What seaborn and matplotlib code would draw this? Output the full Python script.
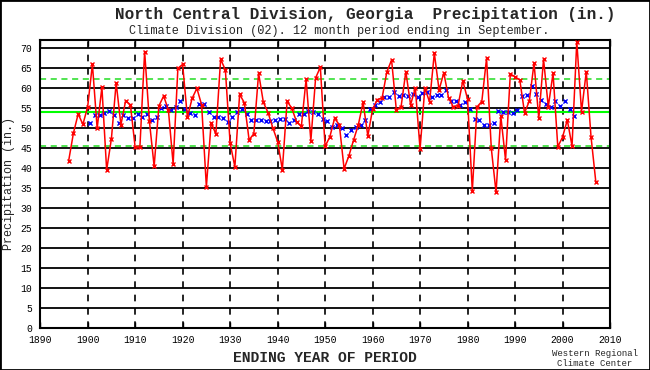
import numpy as np
import pandas as pd
import matplotlib
matplotlib.use("Agg")
import matplotlib.pyplot as plt
import seaborn as sns
from matplotlib.patches import Rectangle

# annual precipitation, 12 months ending in September (red)
years = list(range(1896, 2008))
precip = [41.8, 48.7, 53.5, 50.9, 55.3, 65.9, 49.9, 60.2, 39.5, 47.3,
          61.3, 50.8, 56.8, 55.8, 45.2, 45.2, 69.1, 51.7, 40.4, 55.5,
          58.0, 54.5, 41.0, 64.9, 65.9, 52.7, 57.4, 59.9, 55.8, 35.3,
          51.3, 48.5, 67.2, 64.5, 46.2, 40.3, 58.4, 56.3, 47.0, 48.6,
          63.7, 56.4, 53.8, 50.0, 46.6, 39.6, 56.7, 54.9, 51.5, 50.4,
          62.2, 46.8, 62.5, 65.2, 45.4, 47.8, 52.4, 50.8, 39.8, 43.0,
          47.0, 50.8, 56.4, 48.0, 54.7, 57.1, 57.5, 64.0, 67.0, 54.5,
          55.3, 64.1, 55.8, 60.0, 44.7, 60.0, 56.5, 68.7, 59.5, 63.8,
          57.5, 55.3, 55.6, 61.8, 57.2, 34.3, 55.3, 56.6, 67.4, 44.9,
          33.9, 53.0, 42.0, 63.5, 62.8, 62.0, 53.8, 56.7, 66.2, 52.4,
          67.2, 55.3, 63.7, 45.3, 47.7, 52.0, 45.5, 71.6, 54.1, 64.1,
          47.8, 36.6]

# 10-year running mean (blue), plotted at window centres
mean_years = [y + 0.5 for y in range(1900, 2003)]
mean_vals = [51.2, 53.25, 53.25, 53.7, 54.25, 53.25, 51.2, 53.25, 52.4, 52.4,
             53.4, 52.8, 53.4, 52.0, 52.7, 54.9, 55.6, 54.5, 55.2, 56.75,
             54.7, 53.8, 53.25, 56.0, 56.0, 54.1, 52.7, 52.7, 52.4, 51.6,
             52.7, 54.1, 54.7, 53.5, 52.0, 52.0, 51.9, 51.8, 51.8, 51.9,
             52.2, 52.2, 51.3, 52.0, 53.5, 53.5, 54.3, 54.1, 53.5, 52.2,
             51.7, 50.2, 50.75, 49.9, 48.25, 49.5, 50.2, 50.75, 52.0, 54.7,
             55.7, 56.6, 57.8, 57.7, 58.9, 58.0, 58.25, 58.0, 58.5, 57.8,
             58.7, 58.9, 57.8, 58.25, 58.25, 59.5, 56.8, 56.8, 55.75, 56.6,
             54.7, 52.2, 52.0, 50.75, 50.75, 51.3, 54.25, 54.1, 54.1, 53.8,
             54.5, 58.0, 58.25, 60.5, 58.6, 57.0, 56.0, 55.2, 56.75, 55.5,
             56.75, 54.7, 53.0]

long_mean = 53.9
sd_upper = 62.2
sd_lower = 45.4

x_ticks = list(range(1890, 2011, 10))
y_ticks = list(range(0, 71, 5))

df = pd.DataFrame({"year": years, "precip": precip})
dm = pd.DataFrame({"year": mean_years, "mean": mean_vals})

sns.set_style("white")
plt.rcParams["font.family"] = ["Liberation Mono", "DejaVu Sans Mono"]

fig = plt.figure(figsize=(6.5, 3.7), dpi=100)
ax = fig.add_axes([0.0618, 0.1135, 0.8767, 0.7785])

ax.set_xlim(1890, 2010)
ax.set_ylim(0, 72)
ax.set_xticks(x_ticks)
ax.set_yticks(y_ticks)
ax.set_axisbelow(True)
ax.yaxis.grid(True, color="black", lw=1.3)
ax.xaxis.grid(True, color="black", lw=1.2, ls=(0, (4, 4)))

ax.axhline(long_mean, color="#00ff00", lw=1.5, zorder=2)
ax.axhline(sd_upper, color="#22dd22", lw=1.1, ls=(0, (4, 3)), zorder=2)
ax.axhline(sd_lower, color="#22dd22", lw=1.1, ls=(0, (4, 3)), zorder=2)

sns.scatterplot(data=dm, x="year", y="mean", marker="x", color="#0000ff",
                s=9, linewidth=1.0, ax=ax, zorder=3)
sns.lineplot(data=df, x="year", y="precip", color="#ff0000", lw=1.1,
             marker="x", markersize=3.5, markeredgewidth=1.0,
             markeredgecolor="#ff0000", ax=ax, zorder=4)

for s in ax.spines.values():
    s.set_color("black")
    s.set_linewidth(1.5)

ax.tick_params(axis="x", direction="in", top=True, bottom=True, length=4,
               width=1, labelsize=7, pad=5, colors="black")
ax.tick_params(axis="y", length=0, labelsize=7, pad=6, colors="black")

ax.set_xlabel("ENDING YEAR OF PERIOD", fontsize=10.5, fontweight="bold",
              labelpad=4)
ax.set_ylabel("Precipitation (in.)", fontsize=8.5, labelpad=4)

fig.text(0.562, 0.962, "North Central Division, Georgia  Precipitation (in.)",
         ha="center", va="center", fontsize=11.5, fontweight="bold")
fig.text(0.522, 0.915, "Climate Division (02). 12 month period ending in September.",
         ha="center", va="center", fontsize=8.6)
fig.text(0.915, 0.032, "Western Regional\nClimate Center", ha="center",
         va="center", fontsize=6.5, linespacing=1.15)

fig.patches.append(Rectangle((0, 0), 1, 1, transform=fig.transFigure,
                             fill=False, edgecolor="black", lw=2))

fig.savefig("out.png", dpi=100)
